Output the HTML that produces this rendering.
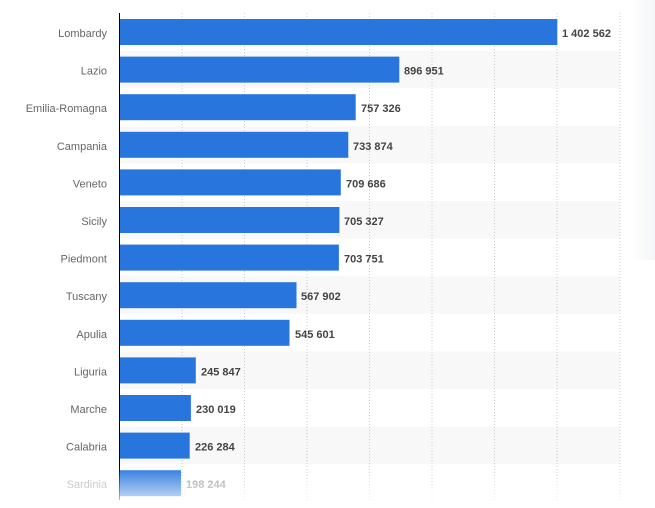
<!DOCTYPE html><html><head><style>body{margin:0;background:#fff}svg{display:block}</style></head><body>
<svg width="655" height="508" xmlns="http://www.w3.org/2000/svg" font-family="Liberation Sans, sans-serif">
<defs><linearGradient id="f" x1="0" y1="0" x2="0" y2="1"><stop offset="0" stop-color="#fff" stop-opacity="0"/><stop offset="1" stop-color="#fff" stop-opacity="0.9"/></linearGradient>
<linearGradient id="r" x1="0" y1="0" x2="1" y2="0"><stop offset="0" stop-color="#f6f8fa" stop-opacity="0"/><stop offset="1" stop-color="#f3f5f8"/></linearGradient></defs>
<rect x="630" y="0" width="25" height="260" fill="url(#r)"/>
<g fill="#f8f8f8">
<rect x="119" y="50.6" width="501" height="37.6"/><rect x="119" y="125.8" width="501" height="37.6"/><rect x="119" y="201" width="501" height="37.6"/><rect x="119" y="276.2" width="501" height="37.6"/><rect x="119" y="351.4" width="501" height="37.6"/><rect x="119" y="426.6" width="501" height="37.6"/>
</g>
<g stroke="#ccc" stroke-dasharray="1,2" stroke-width="1">
<line x1="182" y1="13" x2="182" y2="500"/><line x1="244.5" y1="13" x2="244.5" y2="500"/><line x1="307" y1="13" x2="307" y2="500"/><line x1="369.5" y1="13" x2="369.5" y2="500"/><line x1="432" y1="13" x2="432" y2="500"/><line x1="494.5" y1="13" x2="494.5" y2="500"/><line x1="557" y1="13" x2="557" y2="500"/><line x1="620" y1="13" x2="620" y2="500"/>
</g>
<g fill="#2876dd">
<rect x="119" y="19" width="438.3" height="26"/>
<rect x="119" y="56.6" width="280.3" height="26"/>
<rect x="119" y="94.2" width="236.7" height="26"/>
<rect x="119" y="131.8" width="229.3" height="26"/>
<rect x="119" y="169.4" width="221.8" height="26"/>
<rect x="119" y="207" width="220.4" height="26"/>
<rect x="119" y="244.6" width="219.9" height="26"/>
<rect x="119" y="282.2" width="177.5" height="26"/>
<rect x="119" y="319.8" width="170.5" height="26"/>
<rect x="119" y="357.4" width="76.8" height="26"/>
<rect x="119" y="395" width="71.9" height="26"/>
<rect x="119" y="432.6" width="70.7" height="26"/>
<rect x="119" y="470.2" width="62" height="26"/>
</g>
<line x1="119.5" y1="13" x2="119.5" y2="500" stroke="#000" stroke-width="1"/>
<g font-size="11" fill="#666" text-anchor="end">
<text x="107" y="37">Lombardy</text><text x="107" y="74.6">Lazio</text><text x="107" y="112.2">Emilia-Romagna</text><text x="107" y="149.8">Campania</text><text x="107" y="187.4">Veneto</text><text x="107" y="225">Sicily</text><text x="107" y="262.6">Piedmont</text><text x="107" y="300.2">Tuscany</text><text x="107" y="337.8">Apulia</text><text x="107" y="375.4">Liguria</text><text x="107" y="413">Marche</text><text x="107" y="450.6">Calabria</text><text x="107" y="488.2" fill="#aaa">Sardinia</text>
</g>
<g font-size="11" font-weight="bold" fill="#444">
<text x="562" y="37">1 402 562</text><text x="404" y="74.6">896 951</text><text x="361" y="112.2">757 326</text><text x="353" y="149.8">733 874</text><text x="346" y="187.4">709 686</text><text x="344" y="225">705 327</text><text x="344" y="262.6">703 751</text><text x="301" y="300.2">567 902</text><text x="295" y="337.8">545 601</text><text x="201" y="375.4">245 847</text><text x="196" y="413">230 019</text><text x="195" y="450.6">226 284</text><text x="186" y="488.2" fill="#999">198 244</text>
</g>
<rect x="0" y="466" width="655" height="42" fill="url(#f)"/>
</svg></body></html>
